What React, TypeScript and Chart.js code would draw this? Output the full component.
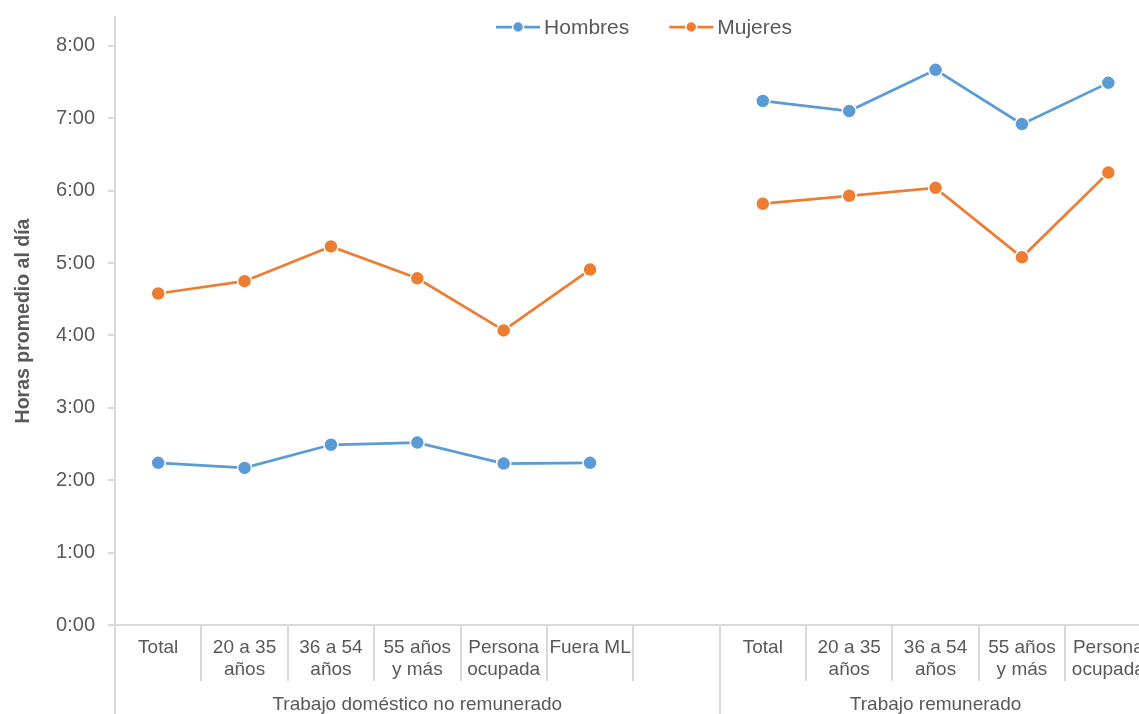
import { useEffect, useRef } from 'react';
import { Chart, registerables } from 'chart.js';

Chart.register(...registerables);

// Category labels (multi-line where the axis wraps them); '' is the spacer between groups
const categories: (string | string[])[] = [
  'Total',
  ['20 a 35', 'años'],
  ['36 a 54', 'años'],
  ['55 años', 'y más'],
  ['Persona', 'ocupada'],
  'Fuera ML',
  '',
  'Total',
  ['20 a 35', 'años'],
  ['36 a 54', 'años'],
  ['55 años', 'y más'],
  ['Persona', 'ocupada'],
];

// Outer category row and how many categories each group covers
const groupLabels = ['Trabajo doméstico no remunerado', 'Trabajo remunerado'];
const groupSpans = [7, 5];

const seriesNames = ['Hombres', 'Mujeres'];
const seriesColors = ['#5B9BD5', '#ED7D31'];

// Average hours per day (decimal hours)
const hombres = [2.24, 2.17, 2.49, 2.52, 2.23, 2.24, null, 7.24, 7.1, 7.67, 6.92, 7.49];
const mujeres = [4.58, 4.75, 5.23, 4.79, 4.07, 4.91, null, 5.82, 5.93, 6.04, 5.08, 6.25];

const yAxisTitle = 'Horas promedio al día';
const yMax = 8.4;

const FONT = '"Liberation Sans", Arial, Helvetica, sans-serif';
const TEXT = '#595959';
const AXIS = '#D9D9D9';
const AXIS_W = 2;

const CANVAS_W = 1160;
const CANVAS_H = 714;

const groupAxisAndLegend = {
  id: 'groupAxisAndLegend',
  afterDraw(chart: any) {
    const { ctx, chartArea, scales } = chart;
    const x = scales.x;
    const w = x.getPixelForValue(1) - x.getPixelForValue(0);
    const edge = (i: number) => x.getPixelForValue(0) - w / 2 + i * w;
    const base = chartArea.bottom;

    const groupEdges = [0];
    groupSpans.forEach((s) => groupEdges.push(groupEdges[groupEdges.length - 1] + s));

    ctx.save();
    // category separators: short inside a group, full height between groups
    ctx.strokeStyle = AXIS;
    ctx.lineWidth = AXIS_W;
    for (let i = 0; i <= categories.length; i++) {
      const long = groupEdges.includes(i);
      const px = Math.round(edge(i));
      ctx.beginPath();
      ctx.moveTo(px, base);
      ctx.lineTo(px, long ? chart.height : base + 56);
      ctx.stroke();
    }

    // group labels
    ctx.fillStyle = TEXT;
    ctx.font = `19px ${FONT}`;
    ctx.textAlign = 'center';
    ctx.textBaseline = 'middle';
    groupLabels.forEach((g, k) => {
      const a = edge(groupEdges[k]);
      const b = edge(groupEdges[k + 1]);
      ctx.fillText(g, (a + b) / 2, base + 80);
    });

    // legend: line-marker-line symbol followed by the series name
    ctx.font = `21px ${FONT}`;
    ctx.textAlign = 'left';
    const symW = 44;
    const gap = 4;
    const itemGap = 40;
    const widths = seriesNames.map((s) => ctx.measureText(s).width);
    const total =
      widths.reduce((a, b) => a + b, 0) +
      seriesNames.length * (symW + gap) +
      itemGap * (seriesNames.length - 1);
    let lx = 644 - total / 2;
    const ly = 27;
    seriesNames.forEach((name, k) => {
      ctx.strokeStyle = seriesColors[k];
      ctx.lineWidth = 2.75;
      ctx.beginPath();
      ctx.moveTo(lx, ly);
      ctx.lineTo(lx + symW, ly);
      ctx.stroke();
      ctx.beginPath();
      ctx.arc(lx + symW / 2, ly, 5.5, 0, Math.PI * 2);
      ctx.fillStyle = seriesColors[k];
      ctx.fill();
      ctx.strokeStyle = '#ffffff';
      ctx.lineWidth = 1.5;
      ctx.stroke();
      ctx.fillStyle = TEXT;
      ctx.fillText(name, lx + symW + gap, ly + 1);
      lx += symW + gap + widths[k] + itemGap;
    });
    ctx.restore();
  },
};

function makeDataset(label: string, data: (number | null)[], color: string) {
  return {
    label,
    data,
    borderColor: color,
    backgroundColor: color,
    borderWidth: 2.75,
    pointRadius: 7,
    pointHoverRadius: 7,
    pointBackgroundColor: color,
    pointBorderColor: '#ffffff',
    pointBorderWidth: 1.5,
    spanGaps: false,
    tension: 0,
  };
}

export default function App() {
  const ref = useRef<HTMLCanvasElement>(null);

  useEffect(() => {
    const chart = new Chart(ref.current as HTMLCanvasElement, {
      type: 'line',
      data: {
        labels: categories as any,
        datasets: [
          makeDataset(seriesNames[0], hombres, seriesColors[0]),
          makeDataset(seriesNames[1], mujeres, seriesColors[1]),
        ],
      },
      options: {
        responsive: false,
        animation: false,
        events: [],
        layout: { padding: { top: 17, right: CANVAS_W - 1154, left: 0, bottom: 0 } },
        plugins: {
          legend: { display: false },
          tooltip: { enabled: false },
        },
        scales: {
          x: {
            type: 'category',
            offset: true,
            grid: { display: false, drawTicks: false },
            border: { display: true, color: AXIS, width: AXIS_W },
            ticks: {
              autoSkip: false,
              maxRotation: 0,
              minRotation: 0,
              padding: 12,
              color: TEXT,
              font: { family: FONT, size: 19, lineHeight: 1.16 },
            },
            afterFit: (scale: any) => {
              scale.height = 89;
              scale.paddingLeft = 0;
              scale.paddingRight = 0;
            },
          },
          y: {
            min: 0,
            max: yMax,
            grid: {
              display: true,
              drawOnChartArea: false,
              drawTicks: true,
              tickLength: 7,
              color: AXIS,
              lineWidth: AXIS_W,
            },
            border: { display: true, color: AXIS, width: AXIS_W },
            ticks: {
              stepSize: 1,
              includeBounds: false,
              padding: 13,
              color: TEXT,
              font: { family: FONT, size: 20 },
              callback: (v: any) => (Number.isInteger(v) ? `${v}:00` : ''),
            },
            title: {
              display: true,
              text: yAxisTitle,
              color: TEXT,
              padding: { top: 12, bottom: 0 },
              font: { family: FONT, size: 19.5, weight: 'bold' },
            },
            afterFit: (scale: any) => {
              scale.width = 115;
              scale.paddingTop = 0;
              scale.paddingBottom = 0;
            },
          },
        },
      },
      plugins: [groupAxisAndLegend],
    });
    return () => chart.destroy();
  }, []);

  return (
    <div
      style={{
        position: 'fixed',
        left: 0,
        top: 0,
        width: 1139,
        height: 714,
        overflow: 'hidden',
        background: '#ffffff',
      }}
    >
      <canvas ref={ref} width={CANVAS_W} height={CANVAS_H} style={{ display: 'block' }} />
    </div>
  );
}
